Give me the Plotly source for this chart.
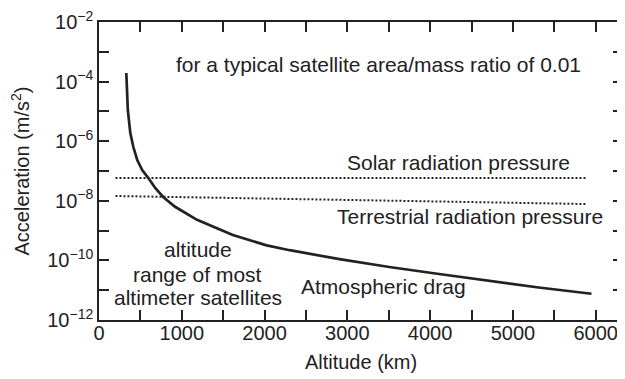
import plotly.graph_objects as go

# Atmospheric drag (altitude km, acceleration m/s^2)
drag_alt = [330, 336, 348, 378, 414, 462, 522, 594, 679, 775, 919, 1184, 1617,
            2026, 2303, 2905, 3506, 4108, 4710, 5311, 5949]
drag_acc = [1.95e-4, 5.2e-5, 1.12e-5, 1.9e-6, 6.5e-7, 2.34e-7, 1.07e-7, 5.9e-8,
            2.7e-8, 1.35e-8, 6.3e-9, 2.3e-9, 7.1e-10, 3.2e-10, 2.2e-10,
            1.1e-10, 6.0e-11, 3.5e-11, 2.04e-11, 1.23e-11, 7.6e-12]

solar_alt = [199, 3000, 5880]
solar_acc = [5.8e-8, 5.8e-8, 5.8e-8]

terr_alt = [199, 2420, 5880]
terr_acc = [1.45e-8, 1.12e-8, 7.8e-9]

xtick_vals = [0, 500, 1000, 1500, 2000, 2500, 3000, 3500, 4000, 4500, 5000, 5500, 6000]
xtick_text = ["0", "", "1000", "", "2000", "", "3000", "", "4000", "", "5000", "", "6000"]
ytick_vals = [1e-12, 1e-11, 1e-10, 1e-9, 1e-8, 1e-7, 1e-6, 1e-5, 1e-4, 1e-3, 1e-2]
ytick_text = ["10<sup>−12</sup>", "", "10<sup>−10</sup>", "", "10<sup>−8</sup>", "",
              "10<sup>−6</sup>", "", "10<sup>−4</sup>", "", "10<sup>−2</sup>"]

FONT = "Liberation Sans, Arial, sans-serif"
INK = "#222222"

fig = go.Figure()
fig.add_trace(go.Scatter(x=solar_alt, y=solar_acc, mode="lines",
                         line=dict(color=INK, width=2, dash="2px,2px")))
fig.add_trace(go.Scatter(x=terr_alt, y=terr_acc, mode="lines",
                         line=dict(color=INK, width=2, dash="2px,2px")))
fig.add_trace(go.Scatter(x=drag_alt, y=drag_acc, mode="lines",
                         line=dict(color=INK, width=2.7)))

annotations = [
    dict(text="for a typical satellite area/mass ratio of 0.01", x=3381, y=-3.44),
    dict(text="Solar radiation pressure", x=4344, y=-6.70),
    dict(text="Terrestrial radiation pressure", x=4483, y=-8.54),
    dict(text="Atmospheric drag", x=3436, y=-10.89),
    dict(text="altitude", x=1191, y=-9.65),
    dict(text="range of most", x=1191, y=-10.46),
    dict(text="altimeter satellites", x=1191, y=-11.23),
]
for a in annotations:
    fig.add_annotation(text=a["text"], x=a["x"], y=a["y"], xref="x", yref="y",
                       showarrow=False, font=dict(family=FONT, size=21, color=INK))

axis_common = dict(
    showline=True, linecolor=INK, linewidth=1.5, mirror="ticks",
    ticks="inside", ticklen=10, tickwidth=1.5, tickcolor=INK,
    showgrid=False, zeroline=False, ticklabeloverflow="allow",
    tickfont=dict(family=FONT, size=20, color=INK),
)

fig.update_layout(
    xaxis=dict(
        range=[0, 6330], tickmode="array", tickvals=xtick_vals, ticktext=xtick_text,
        ticklabelstandoff=-6,
        title=dict(text="Altitude (km)", font=dict(family=FONT, size=20, color=INK), standoff=12),
        **axis_common,
    ),
    yaxis=dict(
        type="log", range=[-12, -2], tickmode="array", tickvals=ytick_vals, ticktext=ytick_text,
        title=dict(text="Acceleration (m/s<sup>2</sup>)", font=dict(family=FONT, size=20, color=INK), standoff=14),
        **axis_common,
    ),
    width=617, height=371,
    margin=dict(l=91, r=0, t=14, b=59),
    plot_bgcolor="white", paper_bgcolor="white",
    showlegend=False,
)

fig.write_html("out.html")
